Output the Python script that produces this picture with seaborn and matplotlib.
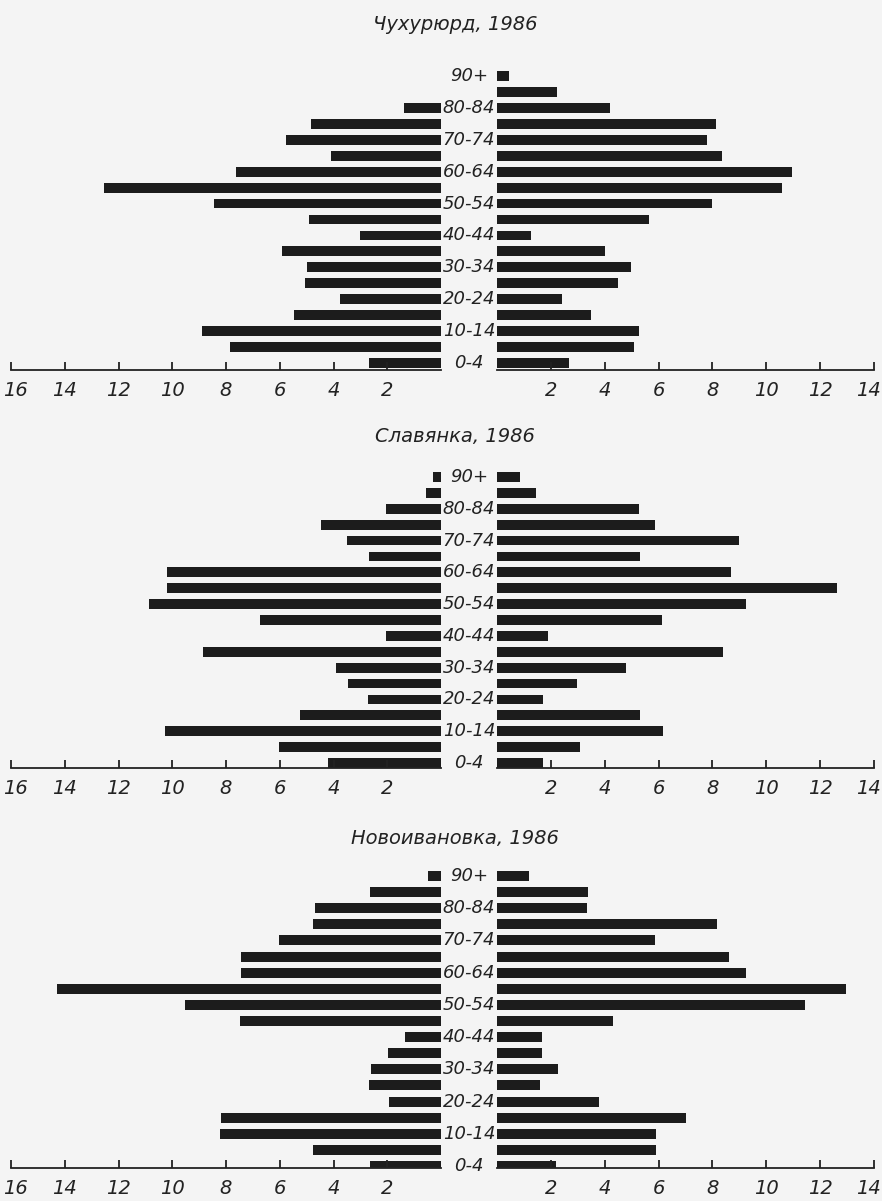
import matplotlib
matplotlib.use("Agg")
import matplotlib.pyplot as plt
import matplotlib.transforms as mtransforms
import seaborn as sns
import pandas as pd

# age groups, youngest first
ages = ["0-4", "5-9", "10-14", "15-19", "20-24", "25-29", "30-34", "35-39",
        "40-44", "45-49", "50-54", "55-59", "60-64", "65-69", "70-74",
        "75-79", "80-84", "85-89", "90+"]

# percent of population, left side / right side of each pyramid
chukh_left = [2.67, 7.86, 8.89, 5.47, 3.77, 5.07, 5.0, 5.93, 3.0, 4.91,
              8.44, 12.53, 7.63, 4.11, 5.75, 4.85, 1.36, 0.0, 0.0]
chukh_right = [2.68, 5.09, 5.28, 3.49, 2.40, 4.48, 4.99, 4.01, 1.25, 5.64,
               7.98, 10.58, 10.95, 8.36, 7.78, 8.15, 4.19, 2.21, 0.43]

slav_left = [4.21, 6.01, 10.26, 5.23, 2.70, 3.47, 3.90, 8.84, 2.05, 6.73,
             10.88, 10.21, 10.19, 2.69, 3.49, 4.48, 2.05, 0.57, 0.31]
slav_right = [1.70, 3.09, 6.17, 5.31, 1.69, 2.98, 4.78, 8.40, 1.88, 6.14,
              9.23, 12.64, 8.69, 5.30, 9.0, 5.86, 5.28, 1.44, 0.86]

novo_left = [2.65, 4.78, 8.21, 8.20, 1.94, 2.67, 2.59, 1.96, 1.35, 7.47,
             9.51, 14.28, 7.44, 7.44, 6.02, 4.75, 4.67, 2.63, 0.49]
novo_right = [2.19, 5.90, 5.90, 7.01, 3.78, 1.61, 2.25, 1.66, 1.68, 4.32,
              11.42, 12.96, 9.25, 8.61, 5.85, 8.17, 3.36, 3.38, 1.17]

titles = ["Чухурюрд, 1986", "Славянка, 1986", "Новоивановка, 1986"]
left_ticks = [16, 14, 12, 10, 8, 6, 4, 2]
right_ticks = [2, 4, 6, 8, 10, 12, 14]

W, H = 882, 1201
bar_color = "#1c1c1c"
bg = "#f4f4f4"
ink = "#222222"
narrow = ["Liberation Sans Narrow", "DejaVu Sans"]

fig = plt.figure(figsize=(W / 100, H / 100), dpi=100, facecolor=bg)
plt.rcParams['font.family'] = ['DejaVu Sans']

# pixel layout: (row of 90+, row of 0-4, axis line, title y)
layout = [(76, 363, 370, 24), (477, 763, 768, 437), (876, 1166, 1168, 839)]
data = [(chukh_left, chukh_right), (slav_left, slav_right), (novo_left, novo_right)]
order = ages[::-1]


def fbox(x0, x1, ytop, ybot):
    return [x0 / W, 1 - ybot / H, (x1 - x0) / W, (ybot - ytop) / H]


def nudge(label, dx_px):
    label.set_transform(label.get_transform() +
                        mtransforms.ScaledTranslation(dx_px / 100, 0, fig.dpi_scale_trans))


for (title, (lv, rv), (y18, y0, yax, ty)) in zip(titles, data, layout):
    s = (y0 - y18) / 18
    lo = 18 + (yax - y0) / s
    ytop = y18 - 0.6 * s
    df = pd.DataFrame({"age": ages, "left": lv, "right": rv})

    axl = fig.add_axes(fbox(11, 441, ytop, yax))
    axr = fig.add_axes(fbox(497, 874, ytop, yax))
    sns.barplot(data=df, x="left", y="age", order=order, orient="h",
                color=bar_color, saturation=1, width=0.62, ax=axl)
    sns.barplot(data=df, x="right", y="age", order=order, orient="h",
                color=bar_color, saturation=1, width=0.62, ax=axr)

    axl.set_xlim(16, 0)
    axr.set_xlim(0, 14)
    for ax, ticks in ((axl, left_ticks), (axr, right_ticks)):
        ax.set_ylim(lo, -0.6)
        ax.set_facecolor("none")
        ax.set_xticks(ticks)
        ax.set_xticklabels([str(t) for t in ticks], fontstyle="italic",
                           fontsize=14, color=ink, family=narrow)
        ax.tick_params(axis="x", direction="in", length=6, width=1.3, pad=8,
                       color=ink)
        ax.set_yticks([])
        ax.set_xlabel("")
        ax.set_ylabel("")
        for side in ("top", "left", "right"):
            ax.spines[side].set_visible(False)
        ax.spines["bottom"].set_linewidth(1.3)
        ax.spines["bottom"].set_color(ink)

    # edge labels sit a little inward, as in the original
    nudge(axl.get_xticklabels()[0], 4)
    nudge(axr.get_xticklabels()[-1], -6)

    # age labels in the gap between the two halves
    tr = mtransforms.blended_transform_factory(fig.transFigure, axr.transData)
    for i, a in enumerate(order):
        if ages.index(a) % 2 == 0:
            fig.text(469 / W, i, a, transform=tr, ha="center", va="center",
                     fontsize=13, fontstyle="italic", color=ink)

    fig.text(455 / W, 1 - ty / H, title, ha="center", va="center",
             fontsize=14, fontstyle="italic", color=ink)

fig.savefig("out.png", dpi=100, facecolor=bg)
